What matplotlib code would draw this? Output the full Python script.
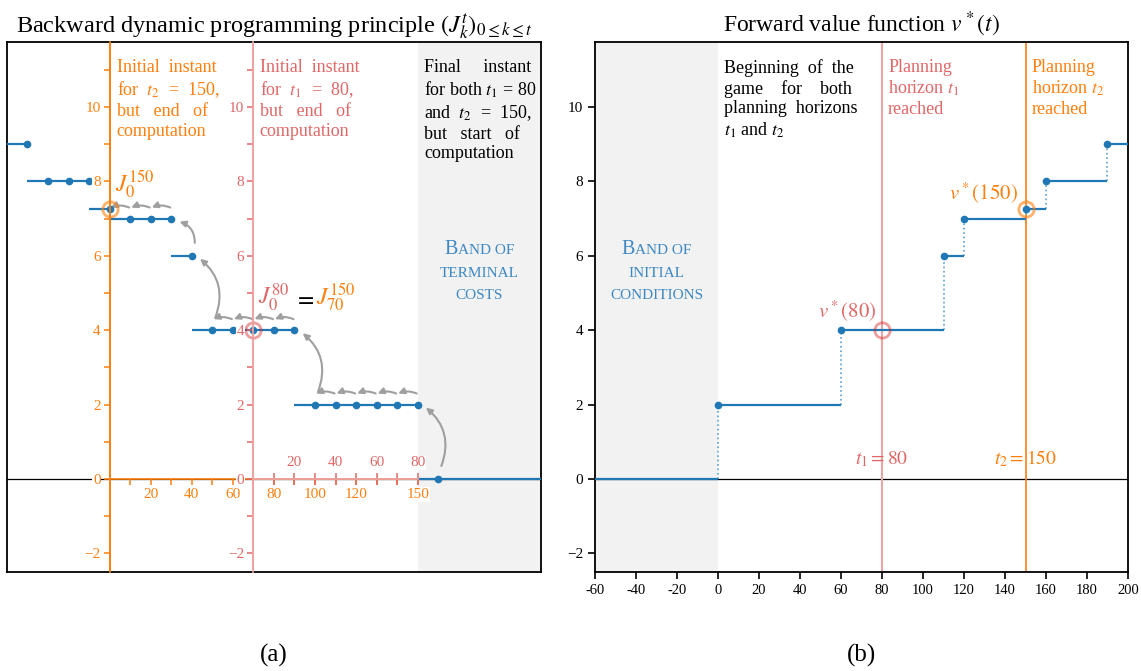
import matplotlib
matplotlib.use('Agg')
import matplotlib.pyplot as plt
import numpy as np
from matplotlib.patches import FancyArrowPatch
from matplotlib.offsetbox import TextArea, HPacker, VPacker, AnnotationBbox

plt.rcParams['font.family'] = 'serif'
plt.rcParams['font.serif'] = ['Liberation Serif', 'DejaVu Serif']
plt.rcParams['mathtext.fontset'] = 'stix'

BLUE = '#1f77b4'
BLUE_DOT = '#5a9fd0'
BAND_TXT = '#3d88c2'
ORANGE = '#ff7f0e'
RED_TXT = '#e06767'
RED_LINE = '#eca4a4'
ARROW = '#9f9f9f'
BAND = '#f2f2f2'

# (a) backward values J_k^150, k on the t2 time scale (red t1 scale is shifted by 70)
k_steps = [-40, -30, -20, -10, 0, 10, 20, 30, 40, 50, 60, 70, 80, 90,
           100, 110, 120, 130, 140, 150, 160]
J_vals = [9, 8, 8, 8, 7.25, 7, 7, 7, 6, 4, 4, 4, 4, 4,
          2, 2, 2, 2, 2, 2, 0]
t1_shift = 70

# (b) forward value function v*(t)
t_jumps = [0, 60, 110, 120, 150, 160, 190]
v_levels = [2, 4, 6, 7, 7.25, 8, 9]
v_before = [0, 2, 4, 6, 7, 7.25, 8]
t1, t2 = 80, 150

y_major = [-2, 0, 2, 4, 6, 8, 10]
y_minor = [-1, 1, 3, 5, 7, 9, 11]
orange_xmajor = [20, 40, 60, 80, 100, 120, 150]
orange_xminor = [10, 30, 50, 70, 90, 110, 130, 140]
red_xmajor = [20, 40, 60, 80]
red_xminor = [10, 30, 50, 70]
b_xticks = list(range(-60, 201, 20))

XLIM_A = (-50, 210)
XLIM_B = (-60, 200)
YLIM = (-2.5, 11.75)

fig = plt.figure(figsize=(11.41, 6.71), dpi=100)
pos_a = [0.0061, 0.1475, 0.4680, 0.7899]
pos_b = [0.5215, 0.1475, 0.4671, 0.7899]


def small_caps(ax, x, y, lines, color):
    rows = []
    for big, small in lines:
        parts = []
        if big:
            parts.append(TextArea(big, textprops=dict(size=14.5, color=color)))
        parts.append(TextArea(small, textprops=dict(size=11, color=color)))
        rows.append(HPacker(children=parts, align='baseline', pad=0, sep=0))
    box = VPacker(children=rows, align='center', pad=0, sep=6)
    ab = AnnotationBbox(box, (x, y), xycoords='data', frameon=False,
                        box_alignment=(0.5, 0.5))
    ax.add_artist(ab)


def white_labels(ax):
    for lab in ax.get_xticklabels() + ax.get_yticklabels():
        lab.set_bbox(dict(facecolor='white', edgecolor='none', pad=0.4))


def minus(vals):
    return [f'{v}'.replace('-', '\u2212') for v in vals]


txt = dict(fontsize=13, linespacing=1.22, va='top', ha='left')
TXT_TOP = 11.3

# ---------------- (a) ----------------
ax = fig.add_axes(pos_a)
ax.set_xlim(*XLIM_A)
ax.set_ylim(*YLIM)
ax.set_xticks([])
ax.set_yticks([])
for sp in ax.spines.values():
    sp.set_linewidth(1.3)
ax.axvspan(150, XLIM_A[1], color=BAND, lw=0, zorder=0)
ax.axhline(0, color='black', lw=0.9, zorder=1)
ax.axvline(0, color=ORANGE, lw=1.3, zorder=1)
ax.axvline(t1_shift, color=RED_LINE, lw=1.5, zorder=1)

k = np.array(k_steps)
J = np.array(J_vals, dtype=float)
ax.hlines(J, k - 10, k, color=BLUE, lw=1.6, zorder=3)
ax.hlines(J[-1], k[-1], XLIM_A[1], color=BLUE, lw=1.6, zorder=3)
ax.plot(k, J, 'o', color=BLUE, ms=4.5, zorder=4)

for i in range(len(k) - 1, 0, -1):
    if k[i - 1] < 0:
        continue
    if abs(J[i - 1] - J[i]) > 0.5:
        pa, pb, rad = (k[i] + 1.5, J[i] + 0.35), (k[i] - 6, J[i - 1] - 0.08), 0.35
    else:
        pa, pb, rad = (k[i] - 0.5, J[i] + 0.3), (k[i] - 9.5, J[i] + 0.3), 0.2
    ax.add_patch(FancyArrowPatch(pa, pb, connectionstyle=f'arc3,rad={rad}',
                                 arrowstyle='-|>,head_length=0.4,head_width=0.2',
                                 mutation_scale=9, color=ARROW, lw=1.5,
                                 shrinkA=0, shrinkB=0, zorder=2))

ax.plot(0, 7.25, 'o', mfc='none', mec=ORANGE, mew=2, ms=11, alpha=0.6, zorder=5)
ax.plot(t1_shift, 4, 'o', mfc='none', mec='#d62728', mew=2, ms=11, alpha=0.45, zorder=5)

ax.text(2.5, 7.72, r'$J_0^{150}$', color=ORANGE, fontsize=17, va='baseline')
ax.text(72, 4.68, r'$J_0^{80}$', color=RED_TXT, fontsize=17, va='baseline')
ax.text(90, 4.68, r'$=$', color='black', fontsize=17, va='baseline')
ax.text(100.5, 4.68, r'$J_{70}^{150}$', color=ORANGE, fontsize=17, va='baseline')

ax.text(3.5, TXT_TOP, 'Initial  instant\nfor  $t_2$  =  150,\nbut   end   of\ncomputation',
        color=ORANGE, **txt)
ax.text(73, TXT_TOP, 'Initial  instant\nfor  $t_1$  =  80,\nbut   end   of\ncomputation',
        color=RED_TXT, **txt)
ax.text(153, TXT_TOP, 'Final     instant\nfor both $t_1$ = 80\nand  $t_2$  =  150,\nbut   start   of\ncomputation',
        color='black', **txt)
small_caps(ax, 180, 5.6, [('B', 'AND OF'), ('', 'TERMINAL'), ('', 'COSTS')], BAND_TXT)
ax.set_title(r'Backward dynamic programming principle $(J_k^t)_{0\leq k\leq t}$',
             fontsize=17.5, pad=7)

# orange internal axes (t2 time scale)
ax_o = fig.add_axes(pos_a)
ax_o.patch.set_visible(False)
ax_o.set_xlim(*XLIM_A)
ax_o.set_ylim(*YLIM)
ax_o.spines['top'].set_visible(False)
ax_o.spines['right'].set_visible(False)
ax_o.spines['left'].set_position(('data', 0))
ax_o.spines['bottom'].set_position(('data', 0))
ax_o.spines['bottom'].set_bounds(0, 150)
for s in ('left', 'bottom'):
    ax_o.spines[s].set_color(ORANGE)
    ax_o.spines[s].set_linewidth(1.2)
ax_o.set_xticks(orange_xmajor)
ax_o.set_xticks(orange_xminor, minor=True)
ax_o.set_yticks(y_major)
ax_o.set_yticks(y_minor, minor=True)
ax_o.set_yticklabels(minus(y_major))
ax_o.tick_params(which='both', direction='out', length=4.5, width=1.1, pad=2,
                 colors=ORANGE, labelcolor=ORANGE, labelsize=11)
white_labels(ax_o)

# red internal axes (t1 time scale)
ax_r = fig.add_axes(pos_a)
ax_r.patch.set_visible(False)
ax_r.set_xlim(XLIM_A[0] - t1_shift, XLIM_A[1] - t1_shift)
ax_r.set_ylim(*YLIM)
ax_r.spines['bottom'].set_visible(False)
ax_r.spines['right'].set_visible(False)
ax_r.spines['left'].set_position(('data', 0))
ax_r.spines['top'].set_position(('data', 0))
ax_r.spines['top'].set_bounds(0, 80)
for s in ('left', 'top'):
    ax_r.spines[s].set_color(RED_LINE)
    ax_r.spines[s].set_linewidth(1.3)
ax_r.xaxis.set_ticks_position('top')
ax_r.set_xticks(red_xmajor)
ax_r.set_xticks(red_xminor, minor=True)
ax_r.set_yticks(y_major)
ax_r.set_yticks(y_minor, minor=True)
ax_r.set_yticklabels(minus(y_major))
ax_r.tick_params(axis='y', which='both', direction='out', length=4.5, width=1.1, pad=2,
                 colors=RED_TXT, labelcolor=RED_TXT, labelsize=11)
ax_r.tick_params(axis='x', which='both', direction='inout', length=8, width=1.1, pad=3,
                 colors=RED_TXT, labelcolor=RED_TXT, labelsize=11)
white_labels(ax_r)

# ---------------- (b) ----------------
bx = fig.add_axes(pos_b)
bx.set_xlim(*XLIM_B)
bx.set_ylim(*YLIM)
for sp in bx.spines.values():
    sp.set_linewidth(1.3)
bx.axvspan(XLIM_B[0], 0, color=BAND, lw=0, zorder=0)
bx.axhline(0, color='black', lw=0.9, zorder=1)
bx.axvline(t1, color=RED_LINE, lw=1.5, zorder=1)
bx.axvline(t2, color=ORANGE, lw=1.2, zorder=1)

tj = np.array(t_jumps)
t_end = np.append(tj[1:], XLIM_B[1])
bx.hlines(0, XLIM_B[0], tj[0], color=BLUE, lw=1.6, zorder=3)
bx.hlines(v_levels, tj, t_end, color=BLUE, lw=1.6, zorder=3)
bx.vlines(tj, v_before, v_levels, color=BLUE_DOT, lw=1.2, linestyles=':', zorder=2)
bx.plot(tj, v_levels, 'o', color=BLUE, ms=4.5, zorder=4)
bx.plot(t1, 4, 'o', mfc='none', mec='#d62728', mew=2, ms=11, alpha=0.45, zorder=5)
bx.plot(t2, 7.25, 'o', mfc='none', mec=ORANGE, mew=2, ms=11, alpha=0.6, zorder=5)

bx.text(77.5, 4.33, r'$v^*(80)$', color=RED_TXT, fontsize=15, ha='right', va='baseline')
bx.text(146.5, 7.5, r'$v^*(150)$', color=ORANGE, fontsize=15, ha='right', va='baseline')
bx.text(t1, 0.4, r'$t_1 = 80$', color=RED_TXT, fontsize=14, ha='center', va='baseline')
bx.text(t2, 0.4, r'$t_2 = 150$', color=ORANGE, fontsize=14, ha='center', va='baseline')

bx.text(3, TXT_TOP, 'Beginning  of  the\ngame    for    both\nplanning  horizons\n$t_1$ and $t_2$',
        color='black', **txt)
bx.text(83, TXT_TOP, 'Planning\nhorizon $t_1$\nreached', color=RED_TXT, **txt)
bx.text(153, TXT_TOP, 'Planning\nhorizon $t_2$\nreached', color=ORANGE, **txt)
small_caps(bx, -30, 5.6, [('B', 'AND OF'), ('', 'INITIAL'), ('', 'CONDITIONS')], BAND_TXT)

bx.set_xticks(b_xticks)
bx.set_xticklabels([str(v) for v in b_xticks])
bx.set_yticks(y_major)
bx.set_yticklabels(minus(y_major))
bx.tick_params(axis='x', labelsize=10.5, length=5, width=1.2)
bx.tick_params(axis='y', labelsize=11, length=5, width=1.2)
bx.set_title(r'Forward value function $v^*(t)$', fontsize=17, pad=7)

fig.text(pos_a[0] + pos_a[2] / 2, 0.023, '(a)', fontsize=18, ha='center', va='center')
fig.text(pos_b[0] + pos_b[2] / 2, 0.023, '(b)', fontsize=18, ha='center', va='center')

fig.savefig('out.png', dpi=100)
